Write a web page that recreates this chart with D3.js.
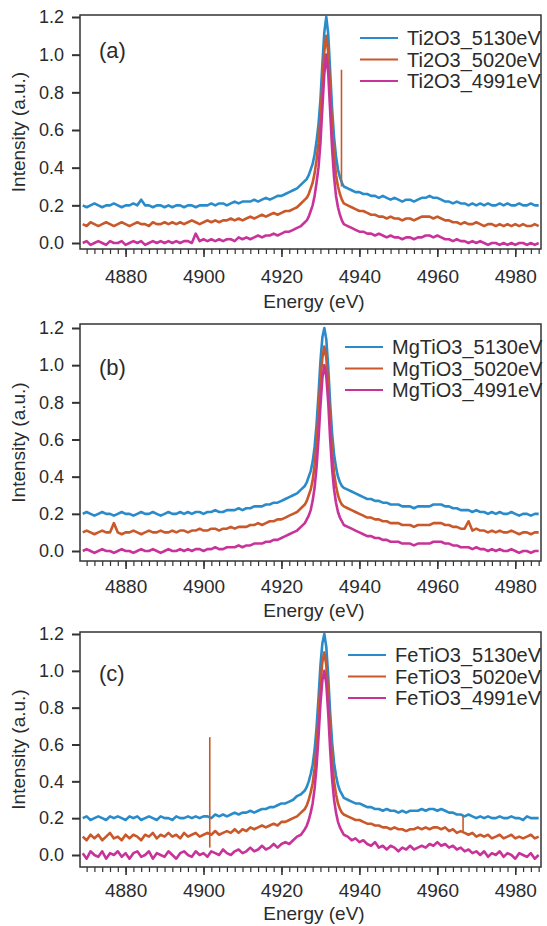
<!DOCTYPE html>
<html>
<head>
<meta charset="utf-8">
<script src="https://cdn.jsdelivr.net/npm/d3@7"></script>
<style>
body { margin: 0; background: #fff; }
svg { display: block; }
text { font-family: "Liberation Sans", Arial, sans-serif; fill: #2b2b2b; }
</style>
</head>
<body>
<div id="chart"></div>
<script>
var W = 547;
var H = 926;
var LEFT = 80;
var RIGHT = 541;

// energy grid (eV), shared by all spectra
var energies = [
  4869, 4870, 4871, 4872, 4873, 4874, 4875, 4876, 4877, 4878, 4879, 4880,
  4881, 4882, 4883, 4884, 4885, 4886, 4887, 4888, 4889, 4890,
  4891, 4892, 4893, 4894, 4895, 4896, 4897, 4898, 4899, 4900,
  4901, 4902, 4903, 4904, 4905, 4906, 4907, 4908, 4909, 4910,
  4911, 4912, 4913, 4914, 4915, 4916, 4917, 4918, 4919, 4920,
  4921, 4922, 4923, 4924, 4925, 4926,
  4926.5, 4927, 4927.5, 4928, 4928.5, 4929, 4929.5, 4930, 4930.5, 4931,
  4931.5, 4932, 4932.5, 4933, 4933.5, 4934, 4934.5, 4935, 4935.5, 4936,
  4937, 4938, 4939, 4940, 4941, 4942, 4943, 4944, 4945, 4946,
  4947, 4948, 4949, 4950, 4951, 4952, 4953, 4954, 4955, 4956,
  4957, 4958, 4959, 4960, 4961, 4962, 4963, 4964, 4965, 4966,
  4967, 4968, 4969, 4970, 4971, 4972, 4973, 4974, 4975, 4976,
  4977, 4978, 4979, 4980, 4981, 4982, 4983, 4984, 4985, 4986
];

var xTicks = [4880, 4900, 4920, 4940, 4960, 4980];
var yTicks = [0, 0.2, 0.4, 0.6, 0.8, 1.0, 1.2];

// (a) Ti2O3
var namesA = ["Ti2O3_5130eV", "Ti2O3_5020eV", "Ti2O3_4991eV"];
var ti2o3_5130 = [
  0.20, 0.19, 0.20, 0.21, 0.20, 0.19, 0.20, 0.20, 0.21, 0.20, 0.19, 0.20,
  0.20, 0.21, 0.20, 0.23, 0.20, 0.20, 0.19, 0.20, 0.20, 0.19,
  0.20, 0.19, 0.20, 0.20, 0.19, 0.20, 0.20, 0.19, 0.20, 0.20,
  0.20, 0.21, 0.20, 0.21, 0.21, 0.20, 0.21, 0.22, 0.21, 0.22,
  0.22, 0.22, 0.23, 0.22, 0.23, 0.24, 0.23, 0.24, 0.25, 0.25,
  0.26, 0.27, 0.28, 0.29, 0.31, 0.33,
  0.34, 0.36, 0.39, 0.42, 0.47, 0.54, 0.63, 0.76, 0.95, 1.12,
  1.20, 1.11, 0.91, 0.71, 0.56, 0.46, 0.39, 0.35, 0.32, 0.30,
  0.29, 0.28, 0.27, 0.27, 0.26, 0.26, 0.25, 0.25, 0.24, 0.25,
  0.24, 0.23, 0.24, 0.23, 0.22, 0.23, 0.23, 0.22, 0.23, 0.24,
  0.24, 0.25, 0.24, 0.24, 0.23, 0.22, 0.22, 0.21, 0.22, 0.21,
  0.21, 0.20, 0.21, 0.20, 0.21, 0.20, 0.21, 0.20, 0.20, 0.21,
  0.20, 0.21, 0.20, 0.20, 0.21, 0.20, 0.20, 0.21, 0.20, 0.20
];
var ti2o3_5020 = [
  0.10, 0.09, 0.11, 0.10, 0.09, 0.10, 0.11, 0.10, 0.09, 0.10, 0.11, 0.10,
  0.09, 0.10, 0.11, 0.10, 0.10, 0.09, 0.11, 0.10, 0.10, 0.11,
  0.10, 0.11, 0.10, 0.11, 0.10, 0.11, 0.12, 0.11, 0.10, 0.11,
  0.12, 0.11, 0.12, 0.11, 0.12, 0.12, 0.13, 0.12, 0.13, 0.12,
  0.13, 0.14, 0.13, 0.14, 0.15, 0.14, 0.15, 0.16, 0.15, 0.16,
  0.17, 0.17, 0.18, 0.19, 0.21, 0.23,
  0.24, 0.26, 0.29, 0.32, 0.37, 0.44, 0.53, 0.66, 0.85, 1.02,
  1.10, 1.01, 0.81, 0.61, 0.46, 0.36, 0.30, 0.26, 0.23, 0.21,
  0.20, 0.19, 0.18, 0.17, 0.17, 0.16, 0.15, 0.15, 0.14, 0.14,
  0.13, 0.14, 0.13, 0.13, 0.12, 0.13, 0.13, 0.12, 0.13, 0.14,
  0.14, 0.14, 0.13, 0.14, 0.13, 0.12, 0.12, 0.11, 0.11, 0.10,
  0.11, 0.10, 0.10, 0.11, 0.10, 0.09, 0.10, 0.10, 0.09, 0.10,
  0.09, 0.10, 0.09, 0.10, 0.09, 0.10, 0.09, 0.09, 0.10, 0.09
];
var ti2o3_4991 = [
  0.00, 0.01, -0.01, 0.00, 0.01, 0.00, -0.01, 0.01, 0.00, 0.00, 0.01, -0.01,
  0.00, 0.01, 0.00, 0.01, -0.01, 0.00, 0.01, 0.00, 0.01, 0.00,
  0.01, 0.00, 0.01, 0.00, 0.01, 0.01, 0.00, 0.05, 0.01, 0.02,
  0.01, 0.02, 0.01, 0.02, 0.01, 0.02, 0.02, 0.01, 0.03, 0.02,
  0.03, 0.02, 0.03, 0.04, 0.03, 0.04, 0.04, 0.05, 0.04, 0.05,
  0.06, 0.06, 0.07, 0.08, 0.09, 0.11,
  0.12, 0.14, 0.17, 0.20, 0.25, 0.32, 0.40, 0.53, 0.72, 0.90,
  1.00, 0.90, 0.70, 0.50, 0.35, 0.25, 0.19, 0.15, 0.12, 0.10,
  0.09, 0.08, 0.07, 0.06, 0.06, 0.05, 0.05, 0.04, 0.05, 0.04,
  0.03, 0.04, 0.03, 0.03, 0.02, 0.03, 0.03, 0.02, 0.03, 0.03,
  0.04, 0.04, 0.03, 0.04, 0.03, 0.02, 0.02, 0.01, 0.02, 0.01,
  0.01, 0.00, 0.01, 0.00, 0.01, 0.00, -0.01, 0.00, 0.00, -0.01,
  0.00, -0.01, 0.00, -0.01, 0.00, 0.00, -0.01, 0.00, -0.01, 0.00
];
// [energy, low, high] single-channel glitches
var spikesA = [[4935.4, 0.30, 0.92]];

// (b) MgTiO3
var namesB = ["MgTiO3_5130eV", "MgTiO3_5020eV", "MgTiO3_4991eV"];
var mgtio3_5130 = [
  0.20, 0.21, 0.20, 0.19, 0.20, 0.21, 0.20, 0.20, 0.19, 0.20, 0.21, 0.20,
  0.20, 0.19, 0.20, 0.21, 0.20, 0.20, 0.21, 0.20, 0.19, 0.20,
  0.21, 0.20, 0.20, 0.21, 0.20, 0.21, 0.20, 0.21, 0.21, 0.20,
  0.21, 0.21, 0.22, 0.21, 0.21, 0.22, 0.22, 0.22, 0.23, 0.22,
  0.23, 0.23, 0.24, 0.24, 0.24, 0.25, 0.25, 0.26, 0.26, 0.27,
  0.28, 0.29, 0.30, 0.31, 0.33, 0.35,
  0.37, 0.40, 0.43, 0.48, 0.56, 0.68, 0.84, 1.02, 1.15, 1.20,
  1.14, 0.99, 0.79, 0.63, 0.52, 0.45, 0.40, 0.37, 0.35, 0.34,
  0.33, 0.32, 0.31, 0.30, 0.29, 0.28, 0.28, 0.27, 0.27, 0.26,
  0.26, 0.25, 0.25, 0.25, 0.24, 0.24, 0.24, 0.23, 0.24, 0.24,
  0.24, 0.24, 0.25, 0.25, 0.25, 0.24, 0.24, 0.23, 0.23, 0.22,
  0.22, 0.22, 0.21, 0.22, 0.21, 0.21, 0.20, 0.21, 0.20, 0.21,
  0.20, 0.20, 0.21, 0.20, 0.19, 0.20, 0.20, 0.19, 0.20, 0.20
];
var mgtio3_5020 = [
  0.10, 0.11, 0.10, 0.09, 0.10, 0.11, 0.10, 0.10, 0.15, 0.10, 0.09, 0.10,
  0.10, 0.11, 0.10, 0.09, 0.10, 0.11, 0.10, 0.10, 0.11, 0.10,
  0.10, 0.11, 0.10, 0.11, 0.11, 0.10, 0.11, 0.11, 0.12, 0.11,
  0.11, 0.12, 0.12, 0.11, 0.12, 0.12, 0.13, 0.12, 0.13, 0.13,
  0.13, 0.14, 0.14, 0.15, 0.14, 0.15, 0.16, 0.16, 0.17, 0.17,
  0.18, 0.19, 0.20, 0.21, 0.23, 0.25,
  0.27, 0.30, 0.33, 0.38, 0.46, 0.58, 0.74, 0.92, 1.04, 1.10,
  1.04, 0.89, 0.69, 0.53, 0.42, 0.35, 0.30, 0.27, 0.25, 0.24,
  0.23, 0.22, 0.21, 0.20, 0.19, 0.18, 0.18, 0.17, 0.17, 0.16,
  0.16, 0.15, 0.15, 0.15, 0.14, 0.14, 0.14, 0.13, 0.14, 0.14,
  0.14, 0.14, 0.15, 0.15, 0.15, 0.14, 0.14, 0.13, 0.13, 0.12,
  0.12, 0.16, 0.11, 0.12, 0.11, 0.11, 0.10, 0.11, 0.10, 0.11,
  0.10, 0.10, 0.11, 0.10, 0.09, 0.10, 0.10, 0.09, 0.10, 0.10
];
var mgtio3_4991 = [
  0.00, 0.01, 0.00, -0.01, 0.00, 0.01, 0.00, 0.00, -0.01, 0.00, 0.01, 0.00,
  0.00, -0.01, 0.00, 0.01, 0.00, 0.00, 0.01, 0.00, -0.01, 0.00,
  0.01, 0.00, 0.00, 0.01, 0.00, 0.01, 0.00, 0.01, 0.01, 0.00,
  0.01, 0.01, 0.02, 0.01, 0.01, 0.02, 0.02, 0.02, 0.03, 0.02,
  0.03, 0.03, 0.04, 0.04, 0.04, 0.05, 0.05, 0.06, 0.06, 0.07,
  0.08, 0.09, 0.10, 0.11, 0.13, 0.15,
  0.17, 0.19, 0.22, 0.27, 0.34, 0.45, 0.60, 0.78, 0.93, 1.00,
  0.94, 0.80, 0.60, 0.44, 0.33, 0.26, 0.21, 0.18, 0.16, 0.14,
  0.13, 0.12, 0.11, 0.10, 0.09, 0.08, 0.08, 0.07, 0.07, 0.06,
  0.06, 0.05, 0.05, 0.05, 0.04, 0.04, 0.04, 0.03, 0.04, 0.04,
  0.04, 0.04, 0.05, 0.05, 0.05, 0.04, 0.04, 0.03, 0.03, 0.02,
  0.02, 0.02, 0.01, 0.02, 0.01, 0.01, 0.00, 0.01, 0.00, 0.01,
  0.00, 0.00, 0.01, 0.00, -0.01, 0.00, 0.00, -0.01, 0.00, 0.00
];
var spikesB = [];

// (c) FeTiO3
var namesC = ["FeTiO3_5130eV", "FeTiO3_5020eV", "FeTiO3_4991eV"];
var fetio3_5130 = [
  0.20, 0.21, 0.19, 0.20, 0.21, 0.20, 0.19, 0.21, 0.20, 0.21, 0.20, 0.19,
  0.21, 0.20, 0.21, 0.19, 0.20, 0.21, 0.20, 0.19, 0.21, 0.20,
  0.20, 0.19, 0.21, 0.20, 0.20, 0.21, 0.20, 0.21, 0.20, 0.21,
  0.21, 0.20, 0.22, 0.21, 0.22, 0.21, 0.22, 0.23, 0.22, 0.23,
  0.23, 0.24, 0.23, 0.24, 0.25, 0.25, 0.26, 0.26, 0.27, 0.28,
  0.28, 0.29, 0.30, 0.32, 0.33, 0.35,
  0.37, 0.40, 0.44, 0.49, 0.57, 0.69, 0.85, 1.03, 1.15, 1.20,
  1.13, 0.97, 0.77, 0.61, 0.50, 0.43, 0.38, 0.35, 0.33, 0.31,
  0.30, 0.29, 0.28, 0.28, 0.27, 0.26, 0.26, 0.25, 0.25, 0.24,
  0.25, 0.24, 0.24, 0.23, 0.24, 0.23, 0.24, 0.24, 0.24, 0.25,
  0.24, 0.25, 0.25, 0.24, 0.25, 0.24, 0.23, 0.23, 0.22, 0.22,
  0.21, 0.22, 0.21, 0.20, 0.21, 0.20, 0.21, 0.20, 0.20, 0.21,
  0.20, 0.20, 0.21, 0.20, 0.20, 0.19, 0.21, 0.20, 0.20, 0.20
];
var fetio3_5020 = [
  0.10, 0.08, 0.11, 0.09, 0.11, 0.08, 0.10, 0.12, 0.09, 0.10, 0.08, 0.11,
  0.09, 0.11, 0.10, 0.08, 0.11, 0.10, 0.12, 0.09, 0.11, 0.10,
  0.12, 0.10, 0.11, 0.09, 0.12, 0.10, 0.11, 0.12, 0.10, 0.11,
  0.12, 0.11, 0.13, 0.11, 0.12, 0.13, 0.12, 0.14, 0.12, 0.14,
  0.13, 0.15, 0.14, 0.15, 0.16, 0.15, 0.16, 0.17, 0.16, 0.18,
  0.18, 0.19, 0.20, 0.21, 0.23, 0.25,
  0.27, 0.30, 0.34, 0.39, 0.47, 0.59, 0.75, 0.93, 1.05, 1.10,
  1.03, 0.87, 0.67, 0.51, 0.40, 0.33, 0.28, 0.25, 0.23, 0.22,
  0.21, 0.20, 0.19, 0.19, 0.18, 0.17, 0.17, 0.16, 0.16, 0.15,
  0.15, 0.14, 0.15, 0.14, 0.14, 0.13, 0.14, 0.14, 0.15, 0.14,
  0.15, 0.14, 0.15, 0.15, 0.14, 0.15, 0.13, 0.14, 0.12, 0.13,
  0.12, 0.11, 0.12, 0.10, 0.11, 0.10, 0.11, 0.09, 0.10, 0.11,
  0.09, 0.10, 0.11, 0.09, 0.10, 0.09, 0.10, 0.11, 0.09, 0.10
];
var fetio3_4991 = [
  0.01, -0.02, 0.02, 0.00, -0.01, 0.02, -0.02, 0.01, 0.00, 0.02, -0.01, 0.01,
  -0.02, 0.01, 0.02, -0.01, 0.00, 0.02, -0.02, 0.01, 0.00, -0.01,
  0.02, 0.00, -0.02, 0.01, 0.02, 0.00, -0.01, 0.02, 0.00, 0.01,
  -0.01, 0.02, 0.01, 0.00, 0.03, 0.01, 0.00, 0.02, 0.03, 0.01,
  0.02, 0.04, 0.02, 0.03, 0.05, 0.03, 0.04, 0.06, 0.04, 0.06,
  0.07, 0.06, 0.08, 0.10, 0.11, 0.14,
  0.16, 0.19, 0.23, 0.28, 0.36, 0.48, 0.64, 0.82, 0.95, 1.00,
  0.93, 0.77, 0.57, 0.41, 0.30, 0.23, 0.18, 0.15, 0.13, 0.11,
  0.10, 0.08, 0.09, 0.07, 0.08, 0.06, 0.05, 0.07, 0.04, 0.05,
  0.03, 0.05, 0.04, 0.02, 0.04, 0.03, 0.05, 0.03, 0.04, 0.05,
  0.04, 0.06, 0.05, 0.07, 0.05, 0.06, 0.04, 0.05, 0.03, 0.04,
  0.02, 0.03, 0.01, 0.02, 0.00, 0.02, -0.01, 0.01, 0.00, 0.02,
  -0.01, 0.01, 0.00, -0.02, 0.01, 0.00, -0.01, 0.01, -0.02, 0.00
];
var spikesC = [[4901.6, 0.04, 0.64], [4966.6, 0.13, 0.21]];

var colors = ["#2a8bcb", "#c9582a", "#c8339a"];

var panels = [
  { tag: "(a)", names: namesA, series: [ti2o3_5130, ti2o3_5020, ti2o3_4991], spikes: spikesA,
    top: 15, y12: 17, y0: 243, bottom: 249, tickY: 276, titleY: 301,
    legendX: 360, legendY: 38, tagY: 50 },
  { tag: "(b)", names: namesB, series: [mgtio3_5130, mgtio3_5020, mgtio3_4991], spikes: spikesB,
    top: 324, y12: 328, y0: 551, bottom: 561, tickY: 586, titleY: 610,
    legendX: 345, legendY: 347, tagY: 367 },
  { tag: "(c)", names: namesC, series: [fetio3_5130, fetio3_5020, fetio3_4991], spikes: spikesC,
    top: 632, y12: 634, y0: 855, bottom: 867, tickY: 890, titleY: 913,
    legendX: 348, legendY: 655, tagY: 673 }
];

var svg = d3.select("#chart").append("svg")
    .attr("width", W)
    .attr("height", H);

var x = d3.scaleLinear().domain([4868.3, 4986.6]).range([LEFT, RIGHT]);

function drawPanel(p, idx) {
    var y = d3.scaleLinear().domain([0, 1.2]).range([p.y0, p.y12]);
    var g = svg.append("g");

    var clipId = "clip" + idx;
    g.append("clipPath").attr("id", clipId)
        .append("rect")
        .attr("x", LEFT).attr("y", p.top)
        .attr("width", RIGHT - LEFT).attr("height", p.bottom - p.top);

    var plot = g.append("g").attr("clip-path", "url(#" + clipId + ")");
    var line = d3.line()
        .x(function (d, i) { return x(energies[i]); })
        .y(function (d) { return y(d); });

    for (var s = 0; s < p.series.length; s++) {
        plot.append("path")
            .datum(p.series[s])
            .attr("fill", "none")
            .attr("stroke", colors[s])
            .attr("stroke-width", 2.6)
            .attr("stroke-linejoin", "round")
            .attr("d", line);
        if (s == 1) {
            for (var k = 0; k < p.spikes.length; k++) {
                var sp = p.spikes[k];
                plot.append("line")
                    .attr("x1", x(sp[0])).attr("x2", x(sp[0]))
                    .attr("y1", y(sp[1])).attr("y2", y(sp[2]))
                    .attr("stroke", colors[1])
                    .attr("stroke-width", 1.6);
            }
        }
    }

    // frame
    g.append("rect")
        .attr("x", LEFT).attr("y", p.top)
        .attr("width", RIGHT - LEFT).attr("height", p.bottom - p.top)
        .attr("fill", "none")
        .attr("stroke", "#333")
        .attr("stroke-width", 1.5);

    // y axis
    var yAxis = d3.axisLeft(y)
        .tickValues(yTicks)
        .tickFormat(d3.format(".1f"))
        .tickSize(8)
        .tickPadding(8);
    var ya = g.append("g").attr("transform", "translate(" + LEFT + ",0)").call(yAxis);
    ya.select(".domain").remove();
    ya.selectAll("line").attr("stroke", "#333").attr("stroke-width", 2);
    ya.selectAll("text").attr("font-size", 18).attr("fill", "#2b2b2b");

    // x axis: minor then major
    var minor = d3.axisBottom(x)
        .tickValues(d3.range(4870, 4987, 2))
        .tickFormat("")
        .tickSize(5);
    var xm = g.append("g").attr("transform", "translate(0," + p.bottom + ")").call(minor);
    xm.select(".domain").remove();
    xm.selectAll("line").attr("stroke", "#333").attr("stroke-width", 1.2);

    var major = d3.axisBottom(x)
        .tickValues(xTicks)
        .tickFormat(d3.format("d"))
        .tickSize(8)
        .tickPadding(p.tickY - p.bottom - 8 - 6.7);
    var xa = g.append("g").attr("transform", "translate(0," + p.bottom + ")").call(major);
    xa.select(".domain").remove();
    xa.selectAll("line").attr("stroke", "#333").attr("stroke-width", 1.6);
    xa.selectAll("text").attr("font-size", 19).attr("fill", "#2b2b2b");

    // axis titles
    g.append("text")
        .attr("x", 314).attr("y", p.titleY)
        .attr("text-anchor", "middle")
        .attr("dominant-baseline", "central")
        .attr("font-size", 19)
        .text("Energy (eV)");
    g.append("text")
        .attr("transform", "translate(18," + ((p.top + p.bottom) / 2) + ") rotate(-90)")
        .attr("text-anchor", "middle")
        .attr("dominant-baseline", "central")
        .attr("font-size", 19)
        .text("Intensity (a.u.)");

    // panel tag
    g.append("text")
        .attr("x", 99).attr("y", p.tagY)
        .attr("dominant-baseline", "central")
        .attr("font-size", 22)
        .text(p.tag);

    // legend
    for (var j = 0; j < p.names.length; j++) {
        var ly = p.legendY + j * 21.5;
        g.append("line")
            .attr("x1", p.legendX).attr("x2", p.legendX + 38)
            .attr("y1", ly).attr("y2", ly)
            .attr("stroke", colors[j])
            .attr("stroke-width", 2);
        g.append("text")
            .attr("x", p.legendX + 47).attr("y", ly)
            .attr("dominant-baseline", "central")
            .attr("font-size", 20)
            .text(p.names[j]);
    }
}

panels.forEach(drawPanel);
</script>
</body>
</html>
